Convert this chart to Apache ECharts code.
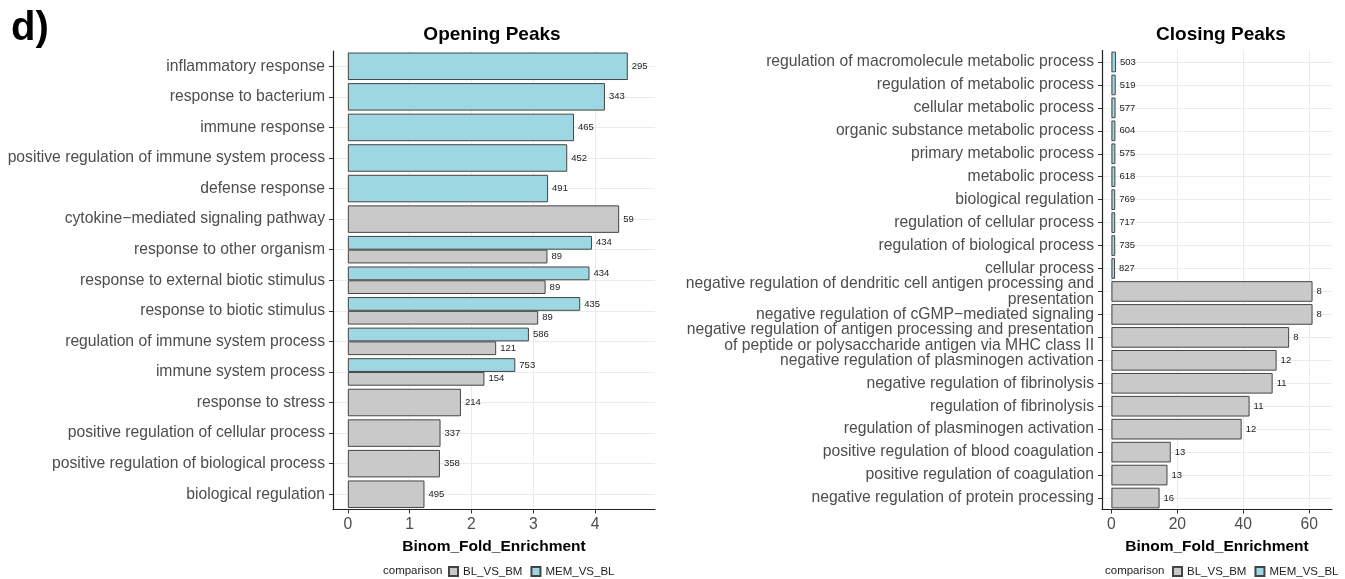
<!DOCTYPE html>
<html>
<head>
<meta charset="utf-8">
<script src="https://cdn.jsdelivr.net/npm/echarts@6/dist/echarts.min.js"></script>
<style>
html,body{margin:0;padding:0;background:#fff;}
#chart{width:1345px;height:579px;}
</style>
</head>
<body>
<div id="chart"></div>
<script>
// ---------- DATA ----------
const openingCategories = [
  'inflammatory response',
  'response to bacterium',
  'immune response',
  'positive regulation of immune system process',
  'defense response',
  'cytokine\u2212mediated signaling pathway',
  'response to other organism',
  'response to external biotic stimulus',
  'response to biotic stimulus',
  'regulation of immune system process',
  'immune system process',
  'response to stress',
  'positive regulation of cellular process',
  'positive regulation of biological process',
  'biological regulation'
];
const openingMEM = [4.53, 4.16, 3.66, 3.55, 3.24, null, 3.95, 3.91, 3.76, 2.93, 2.71, null, null, null, null];
const openingMEMCounts = [295, 343, 465, 452, 491, null, 434, 434, 435, 586, 753, null, null, null, null];
const openingBL = [null, null, null, null, null, 4.39, 3.23, 3.20, 3.08, 2.40, 2.21, 1.83, 1.50, 1.49, 1.24];
const openingBLCounts = [null, null, null, null, null, 59, 89, 89, 89, 121, 154, 214, 337, 358, 495];
const openingTicks = [0, 1, 2, 3, 4];

const closingCategories = [
  'regulation of macromolecule metabolic process',
  'regulation of metabolic process',
  'cellular metabolic process',
  'organic substance metabolic process',
  'primary metabolic process',
  'metabolic process',
  'biological regulation',
  'regulation of cellular process',
  'regulation of biological process',
  'cellular process',
  'negative regulation of dendritic cell antigen processing and\npresentation',
  'negative regulation of cGMP\u2212mediated signaling',
  'negative regulation of antigen processing and presentation\nof peptide or polysaccharide antigen via MHC class II',
  'negative regulation of plasminogen activation',
  'negative regulation of fibrinolysis',
  'regulation of fibrinolysis',
  'regulation of plasminogen activation',
  'positive regulation of blood coagulation',
  'positive regulation of coagulation',
  'negative regulation of protein processing'
];
const closingMEM = [1.4, 1.3, 1.25, 1.2, 1.2, 1.2, 1.15, 1.15, 1.15, 1.1, null, null, null, null, null, null, null, null, null, null];
const closingMEMCounts = [503, 519, 577, 604, 575, 618, 769, 717, 735, 827, null, null, null, null, null, null, null, null, null, null];
const closingBL = [null, null, null, null, null, null, null, null, null, null, 61, 61, 53.9, 50.1, 48.9, 41.9, 39.5, 18.0, 17.0, 14.6];
const closingBLCounts = [null, null, null, null, null, null, null, null, null, null, 8, 8, 8, 12, 11, 11, 12, 13, 13, 16];
const closingTicks = [0, 20, 40, 60];

const seriesNames = ['BL_VS_BM', 'MEM_VS_BL'];
const axisTitle = 'Binom_Fold_Enrichment';
const panelTitles = ['Opening Peaks', 'Closing Peaks'];

// ---------- STYLE ----------
const FONT = '"Liberation Sans", Arial, Helvetica, sans-serif';
const CYAN = '#9dd7e1';
const GRAY = '#c9c9c9';
const BORDER = '#444';
const TXT = '#4d4d4d';
const GRID_LINE = '#ebebeb';

const panels = [
  { cats: openingCategories, mem: openingMEM, memN: openingMEMCounts, bl: openingBL, blN: openingBLCounts,
    ticks: openingTicks, min: -0.24, max: 4.97,
    left: 333, right: 690, top: 51, bottom: 69.5, title: panelTitles[0], titleX: 487,
    legendTextX: 378, legendX: 448 },
  { cats: closingCategories, mem: closingMEM, memN: closingMEMCounts, bl: closingBL, blN: closingBLCounts,
    ticks: closingTicks, min: -2.86, max: 66.9,
    left: 1102, right: 13, top: 50.5, bottom: 69.5, title: panelTitles[1], titleX: 1216,
    legendTextX: 1100, legendX: 1172 }
];

const H = 579;
const grids = [], xAxes = [], yAxes = [], series = [], titles = [], legends = [];

titles.push({ text: 'd)', left: 6, top: 4, textStyle: { fontFamily: FONT, fontSize: 40, fontWeight: 'bold', color: '#000' } });

panels.forEach((p, pi) => {
  const n = p.cats.length;
  const plotH = H - p.top - p.bottom;
  const band = plotH / n;
  const gMain = grids.length;
  grids.push({ left: p.left, right: p.right, top: p.top, bottom: p.bottom, containLabel: false });
  const gLines = grids.length;
  grids.push({ left: p.left, right: p.right, top: p.top + band / 2, bottom: p.bottom + band / 2, containLabel: false });

  const xMain = xAxes.length;
  xAxes.push({
    type: 'value', gridIndex: gMain, min: p.min, max: p.max,
    name: axisTitle, nameLocation: 'middle', nameGap: 29,
    nameTextStyle: { fontFamily: FONT, fontSize: 15.5, fontWeight: 'bold', color: '#000' },
    axisLine: { show: true, onZero: false, lineStyle: { color: '#222', width: 1.2 } },
    axisTick: { show: true, length: 4, customValues: p.ticks, lineStyle: { color: '#333' } },
    axisLabel: { customValues: p.ticks, margin: 7, fontFamily: FONT, fontSize: 15.7, color: TXT, showMinLabel: true, showMaxLabel: true },
    splitLine: { show: true, lineStyle: { color: GRID_LINE, width: 1 } }
  });
  xAxes.push({ type: 'value', gridIndex: gLines, min: p.min, max: p.max, show: false });

  const yMain = yAxes.length;
  yAxes.push({
    type: 'category', gridIndex: gMain, data: p.cats, inverse: true,
    axisLine: { show: true, onZero: false, lineStyle: { color: '#222', width: 1.2 } },
    axisTick: { show: true, alignWithLabel: true, length: 4, lineStyle: { color: '#333' } },
    axisLabel: { margin: 8, fontFamily: FONT, fontSize: 15.7, color: TXT, lineHeight: 16, interval: 0, align: 'right', padding: [4, 0, 0, 0] },
    splitLine: { show: false }
  });
  const yHalf = yAxes.length;
  yAxes.push({ type: 'category', gridIndex: gMain, data: p.cats, inverse: true, show: false });
  yAxes.push({
    type: 'category', gridIndex: gLines, data: p.cats, inverse: true, boundaryGap: false,
    axisLine: { show: false }, axisTick: { show: false }, axisLabel: { show: false },
    splitLine: { show: true, lineStyle: { color: GRID_LINE, width: 1 } }
  });

  const both = p.cats.map((c, i) => p.mem[i] != null && p.bl[i] != null);
  const pick = (arr, wantBoth) => arr.map((v, i) => (v != null && both[i] === wantBoth) ? v : '-');
  const fullW = band * 0.9;
  const mkLabel = (counts) => ({
    show: true, position: 'right', distance: 4, fontFamily: FONT, fontSize: 9.5, color: '#222',
    formatter: (d) => counts[d.dataIndex]
  });
  const style = (c) => ({ color: c, borderColor: BORDER, borderWidth: 1 });

  series.push({ type: 'bar', name: seriesNames[1], xAxisIndex: xMain, yAxisIndex: yMain,
    data: pick(p.mem, false), barWidth: fullW, barGap: '-100%', itemStyle: style(CYAN), label: mkLabel(p.memN) });
  series.push({ type: 'bar', name: seriesNames[0], xAxisIndex: xMain, yAxisIndex: yMain,
    data: pick(p.bl, false), barWidth: fullW, barGap: '-100%', itemStyle: style(GRAY), label: mkLabel(p.blN) });
  series.push({ type: 'bar', name: seriesNames[1], xAxisIndex: xMain, yAxisIndex: yHalf,
    data: pick(p.mem, true), barWidth: fullW / 2, barGap: '0%', itemStyle: style(CYAN), label: mkLabel(p.memN) });
  series.push({ type: 'bar', name: seriesNames[0], xAxisIndex: xMain, yAxisIndex: yHalf,
    data: pick(p.bl, true), barWidth: fullW / 2, barGap: '0%', itemStyle: style(GRAY), label: mkLabel(p.blN) });

  titles.push({ text: p.title, left: p.titleX, top: 20, textAlign: 'center',
    textStyle: { fontFamily: FONT, fontSize: 19, fontWeight: 'bold', color: '#000' } });
  titles.push({ text: 'comparison', left: p.legendTextX, top: 560,
    textStyle: { fontFamily: FONT, fontSize: 11.5, fontWeight: 'normal', color: '#222' } });
  legends.push({
    data: seriesNames, left: p.legendX, top: 565.5, orient: 'horizontal', icon: 'rect',
    itemWidth: 9, itemHeight: 9, itemGap: 8, selectedMode: false,
    textStyle: { fontFamily: FONT, fontSize: 11.5, color: '#222' },
    padding: 0
  });
});

const chart = echarts.init(document.getElementById('chart'), null, { renderer: 'canvas' });
chart.setOption({
  animation: false,
  backgroundColor: '#fff',
  title: titles,
  legend: legends,
  grid: grids,
  xAxis: xAxes,
  yAxis: yAxes,
  series: series
});
</script>
</body>
</html>
